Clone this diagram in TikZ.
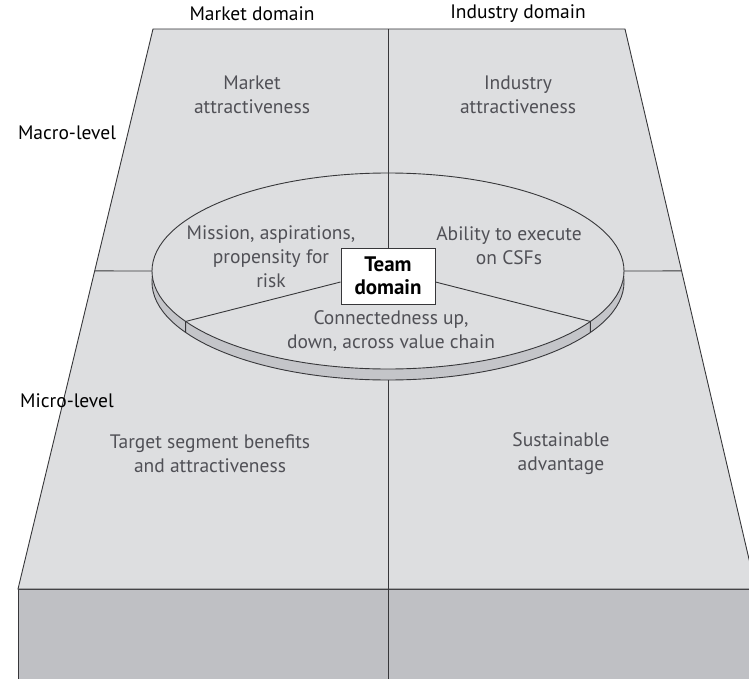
\documentclass[tikz,border=0pt]{standalone}
\usepackage{fontspec}
\setmainfont{PT Sans}
\usetikzlibrary{calc,shapes.geometric}
\definecolor{topface}{RGB}{221,222,224}
\definecolor{frontface}{RGB}{191,192,196}
\definecolor{bandcol}{RGB}{196,197,201}
\definecolor{edgecol}{RGB}{55,55,58}
\definecolor{txtcol}{RGB}{80,80,86}
\begin{document}
\begin{tikzpicture}[x=1pt,y=-1pt,
  edgeline/.style={draw=edgecol, line width=0.9pt},
  content/.style={text=txtcol, font=\fontsize{19.5}{24}\selectfont, align=center, inner sep=0pt},
  heading/.style={text=black, font=\fontsize{19.5}{22}\selectfont, inner sep=0pt},
  discshape/.style={ellipse, minimum width=472pt, minimum height=196pt, inner sep=0pt, outer sep=0pt, edgeline},
  teambox/.style={draw=edgecol, line width=0.9pt, fill=white, minimum width=94pt, minimum height=56pt, inner sep=0pt, align=center, font=\fontsize{21}{23}\selectfont\bfseries}
]
\useasboundingbox (0,0) rectangle (749,679);
\clip (0,0) rectangle (749,679);
\coordinate (TL) at (153,29);
\coordinate (TR) at (625,29);
\coordinate (BL) at (18,589);
\coordinate (BR) at (756,589);
\coordinate (FL) at (18,679);
\coordinate (FR) at (756,679);
\coordinate (TM) at (388,29);
\coordinate (FM) at (388,679);
\filldraw[fill=frontface, edgeline] (BL) -- (BR) -- (FR) -- (FL) -- cycle;
\filldraw[fill=topface, edgeline] (TL) -- (TR) -- (BR) -- (BL) -- cycle;
\coordinate (ML) at ($(TL)!0.432!(BL)$);
\coordinate (MR) at ($(TR)!0.432!(BR)$);
% disc
\node[discshape, fill=bandcol] (discband) at (388,282) {};
\node[discshape, fill=topface] (disc) at (388,271) {};
\draw[edgeline] (ML) -- (disc.west);
\draw[edgeline] (disc.east) -- (MR);
% team box
\node[teambox] (team) at (388,276) {Team\\domain};
\draw[edgeline] (TM) -- (team.north);
\draw[edgeline] (discband.south) -- (FM);
\coordinate (CL) at (disc.194);
\coordinate (CR) at (disc.346);
\draw[edgeline] ($(team.west)+(0,6)$) -- (CL) -- ++(0,11);
\draw[edgeline] ($(team.east)+(0,6)$) -- (CR) -- ++(0,11);
% headings
\node[heading] (mdom) at (252,14) {Market domain};
\node[heading] (idom) at (518,14) {Industry domain};
\node[heading] (macro) at (67,133) {Macro-level};
\node[heading] (micro) at (67,401) {Micro-level};
% contents
\node[content] (matt) at (252,95) {Market\\attractiveness};
\node[content] (iatt) at (518,95) {Industry\\attractiveness};
\node[content] (mission) at (271,257) {Mission, aspirations,\\propensity for\\risk};
\node[content] (ability) at (509,246) {Ability to execute\\on CSFs};
\node[content] (conn) at (391,331) {Connectedness up,\\down, across value chain};
\node[content] (target) at (210,454) {Target segment benefits\\and attractiveness};
\node[content] (sust) at (561,454) {Sustainable\\advantage};
\end{tikzpicture}
\end{document}
